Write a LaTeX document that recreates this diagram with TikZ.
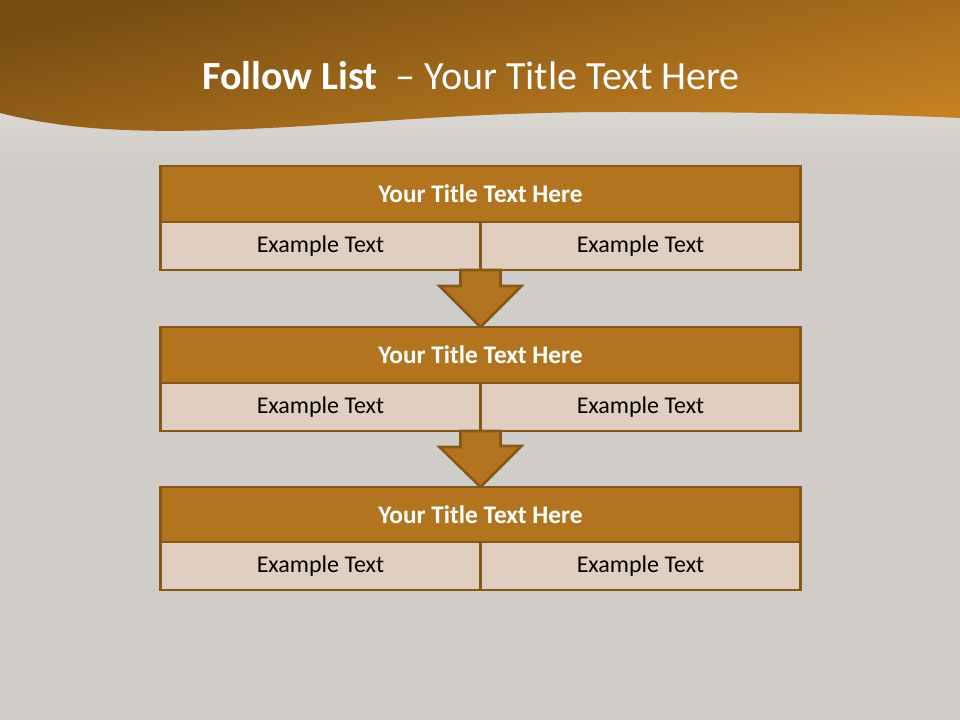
\documentclass[tikz,border=0pt]{standalone}
\usepackage{fontspec}
\setmainfont{Carlito}
\usetikzlibrary{calc}
\definecolor{slatebg}{RGB}{208,204,199}
\definecolor{slatelight}{RGB}{220,217,213}
\definecolor{bandtop}{RGB}{118,76,18}
\definecolor{bandlow}{RGB}{196,128,34}
\definecolor{headfill}{RGB}{178,116,30}
\definecolor{cellfill}{RGB}{224,207,192}
\definecolor{edgebrown}{RGB}{134,88,24}

\begin{document}
\begin{tikzpicture}[x=0.75pt,y=-0.75pt,
  head/.style={draw=edgebrown,line width=1.9pt,fill=headfill,minimum width=480pt,minimum height=42pt,inner sep=0pt,outer sep=0pt,text=white,font=\fontsize{19}{22}\selectfont\bfseries},
  cell/.style={draw=edgebrown,line width=1.9pt,fill=cellfill,minimum width=240pt,minimum height=36pt,inner sep=0pt,outer sep=0pt,font=\fontsize{18}{21}\selectfont},
  downarrow/.style={draw=edgebrown,line width=1.9pt,fill=headfill,line join=miter}]
\useasboundingbox (0,0) rectangle (960,720);
\fill[slatebg] (0,0) rectangle (960,720);
\shade[top color=slatelight,bottom color=slatebg] (0,100) rectangle (960,165);
% title band with the wave
\shade[top color=bandtop,bottom color=bandlow,shading angle=12]
  (0,0) -- (960,0) -- (960,118)
  .. controls (900,115) and (780,112) .. (620,112)
  .. controls (450,112) and (350,126) .. (220,130)
  .. controls (120,133) and (60,128) .. (0,113) -- cycle;
\node[text=white,font=\fontsize{30}{34}\selectfont] (title) at (471,76) {\textbf{Follow List}~ -- Your Title Text Here};

% blocks
\node[head] (t1) at (480.5,194) {Your Title Text Here};
\node[cell] (l1) at (320.5,246) {Example Text};
\node[cell] (r1) at (640.5,246) {Example Text};
\node[head] (t2) at (480.5,355) {Your Title Text Here};
\node[cell] (l2) at (320.5,407) {Example Text};
\node[cell] (r2) at (640.5,407) {Example Text};
\node[head] (t3) at (480.5,515) {Your Title Text Here};
\node[cell] (l3) at (320.5,566) {Example Text};
\node[cell] (r3) at (640.5,566) {Example Text};

% connectors between the blocks
\draw[downarrow] ($(l1.south east)+(-20,0)$) -- ++(0,16) -- ++(-21,0) -- (t2.north) -- ++(41,-41) -- ++(-21,0) -- ($(l1.south east)+(20,0)$) -- cycle;
\draw[downarrow] ($(l2.south east)+(-20,0)$) -- ++(0,16) -- ++(-21,0) -- (t3.north) -- ++(41,-41) -- ++(-21,0) -- ($(l2.south east)+(20,0)$) -- cycle;
\end{tikzpicture}
\end{document}
